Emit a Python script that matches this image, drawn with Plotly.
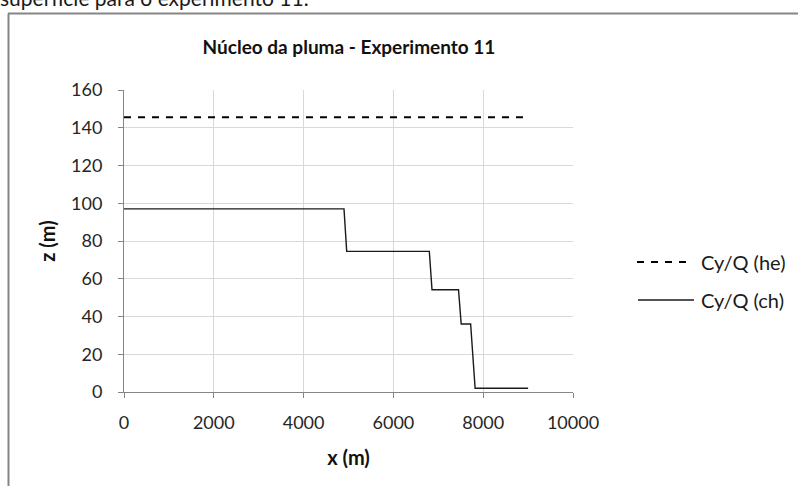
import plotly.graph_objects as go

# Plume core height along the downwind distance - experiment 11
x_he = [0, 9000]
z_he = [145.5, 145.5]

x_ch = [0, 4900, 4960, 6800, 6860, 7450, 7510, 7720, 7820, 9000]
z_ch = [97, 97, 74.5, 74.5, 54.2, 54.2, 36, 36, 2, 2]

series_names = ["Cy/Q (he)", "Cy/Q (ch)"]
x_ticks = [0, 2000, 4000, 6000, 8000, 10000]
y_ticks = [0, 20, 40, 60, 80, 100, 120, 140, 160]

FONT = "Lato"
W, H = 798, 486
ML, MR, MT, MB = 124, 225, 90, 94
PW, PH = W - ML - MR, H - MT - MB


def px(xp):
    return (xp - ML) / PW


def py(yp):
    return (H - MB - yp) / PH


fig = go.Figure()
fig.add_trace(go.Scatter(x=x_he, y=z_he, mode="lines", name=series_names[0],
                         line=dict(color="#000000", width=2, dash="7px,7px"),
                         showlegend=False))
fig.add_trace(go.Scatter(x=x_ch, y=z_ch, mode="lines", name=series_names[1],
                         line=dict(color="#1a1a1a", width=1.4),
                         showlegend=False))

axis_common = dict(
    showgrid=True, gridcolor="#d9d9d9", gridwidth=1,
    showline=True, linecolor="#868686", linewidth=1,
    ticks="outside", ticklen=5, tickcolor="#868686",
    tickfont=dict(family=FONT, size=18, color="#262626"),
    zeroline=False, fixedrange=True,
)

fig.update_xaxes(range=[0, 10000], tickvals=x_ticks, ticktext=[str(v) for v in x_ticks],
                 ticklabelstandoff=9,
                 title=dict(text="<b>x (m)</b>", font=dict(family=FONT, size=20, color="#111111"),
                            standoff=19),
                 **axis_common)
fig.update_yaxes(range=[0, 160], tickvals=y_ticks, ticktext=[str(v) for v in y_ticks],
                 ticklabelstandoff=12,
                 title=dict(text="<b>z (m)</b>", font=dict(family=FONT, size=20, color="#111111"),
                            standoff=10),
                 **axis_common)

shapes = [
    # chart frame
    dict(type="line", xref="paper", yref="paper", x0=px(8.5), x1=px(8.5), y0=py(13.5), y1=py(H + 2),
         line=dict(color="#858585", width=2)),
    dict(type="line", xref="paper", yref="paper", x0=px(8), x1=px(W + 2), y0=py(13.5), y1=py(13.5),
         line=dict(color="#858585", width=2)),
    # legend keys
    dict(type="line", xref="paper", yref="paper", x0=px(637), x1=px(691), y0=py(262), y1=py(262),
         line=dict(color="#000000", width=2, dash="7px,7px")),
    dict(type="line", xref="paper", yref="paper", x0=px(638), x1=px(694), y0=py(300), y1=py(300),
         line=dict(color="#1a1a1a", width=1.4)),
]

annotations = [
    dict(text="superfície para o experimento 11.", xref="paper", yref="paper",
         x=px(-2), y=py(12), xanchor="left", yanchor="bottom", showarrow=False,
         font=dict(family=FONT, size=21, color="#1a1a1a")),
    dict(text=series_names[0], xref="paper", yref="paper", x=px(699), y=py(262),
         xanchor="left", yanchor="middle", showarrow=False,
         font=dict(family=FONT, size=20, color="#1a1a1a")),
    dict(text=series_names[1], xref="paper", yref="paper", x=px(699), y=py(300),
         xanchor="left", yanchor="middle", showarrow=False,
         font=dict(family=FONT, size=20, color="#1a1a1a")),
]

fig.update_layout(
    width=W, height=H,
    margin=dict(l=ML, r=MR, t=MT, b=MB, autoexpand=False),
    paper_bgcolor="#ffffff", plot_bgcolor="#ffffff",
    title=dict(text="<b>Núcleo da pluma - Experimento 11</b>", xref="container",
               x=349 / W, xanchor="center",
               yref="container", y=1 - 47 / H, yanchor="middle",
               font=dict(family=FONT, size=19, color="#111111")),
    shapes=shapes, annotations=annotations,
    showlegend=False,
)

fig.write_html("out.html")
